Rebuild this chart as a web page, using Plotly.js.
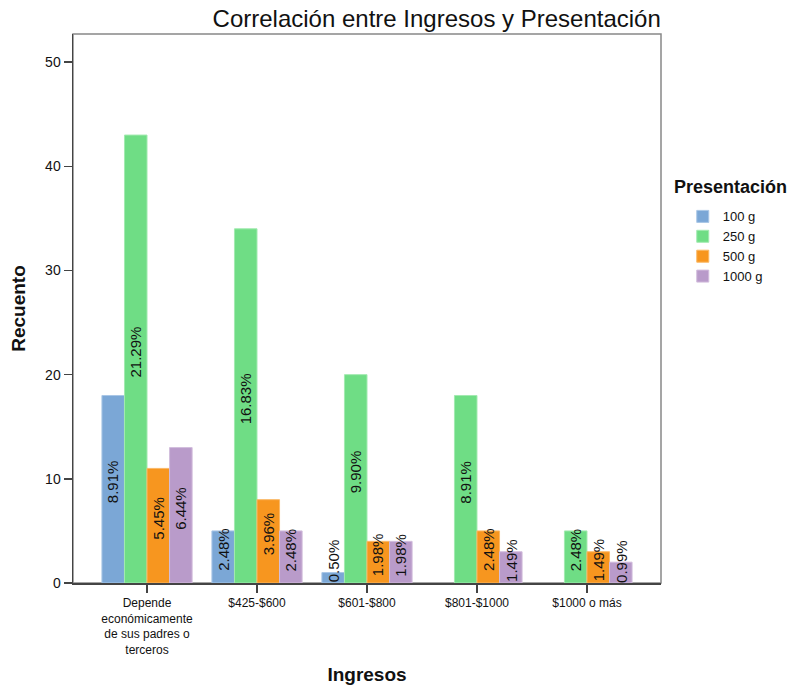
<!DOCTYPE html>
<html>
<head>
<meta charset="utf-8">
<script src="https://cdn.plot.ly/plotly-3.0.1.min.js"></script>
<style>html,body{margin:0;padding:0;background:#fff;}#chart{width:794px;height:688px;}</style>
</head>
<body>
<div id="chart"></div>
<script>
// ---- data ----
const categories = ["Depende<br>económicamente<br>de sus padres o<br>terceros", "$425-$600", "$601-$800", "$801-$1000", "$1000 o más"];
const seriesNames = ["100 g", "250 g", "500 g", "1000 g"];
const v100 = [18, 5, 1, 0, 0];
const v250 = [43, 34, 20, 18, 5];
const v500 = [11, 8, 4, 5, 3];
const v1000 = [13, 5, 4, 3, 2];
const pct100 = ["8.91%", "2.48%", "0.50%", "", ""];
const pct250 = ["21.29%", "16.83%", "9.90%", "8.91%", "2.48%"];
const pct500 = ["5.45%", "3.96%", "1.98%", "2.48%", "1.49%"];
const pct1000 = ["6.44%", "2.48%", "1.98%", "1.49%", "0.99%"];
const yTicks = [0, 10, 20, 30, 40, 50];

// ---- style ----
const FONT = '"Liberation Sans", Arial, sans-serif';
const colors = ["#7ba7d6", "#6fdd85", "#f7961f", "#b99bca"];
const lineColors = ["#a9c6e6", "#a2eab0", "#fab866", "#d2bddc"];
const BARGAP = 0.18;

const values = [v100, v250, v500, v1000];
const pcts = [pct100, pct250, pct500, pct1000];
const idx = categories.map((_, i) => i);

const traces = values.map((vals, s) => ({
  type: 'bar',
  name: seriesNames[s],
  x: idx,
  y: vals,
  marker: {color: colors[s], line: {color: lineColors[s], width: vals.map(v => v > 0 ? 1 : 0)}},
  hoverinfo: 'skip'
}));

// bar value labels (rotated), placed via bar geometry
const annotations = [];
const w = (1 - BARGAP) / values.length;
values.forEach((vals, s) => {
  vals.forEach((v, i) => {
    const t = pcts[s][i];
    if (!t) return;
    annotations.push({
      x: i + (s - (values.length - 1) / 2) * w,
      y: Math.max(v / 2 + 0.7, 2.1),
      xref: 'x', yref: 'y',
      text: t, showarrow: false, textangle: -90,
      font: {family: FONT, size: 15, color: '#111'},
      xanchor: 'center', yanchor: 'middle'
    });
  });
});
// legend title
annotations.push({
  xref: 'paper', yref: 'paper', x: 1.0187, y: 0.7213, xanchor: 'left', yanchor: 'middle',
  text: 'Presentación', showarrow: false,
  font: {family: FONT, size: 18, color: '#111', weight: 'bold'}
});

const layout = {
  width: 794, height: 688,
  margin: {l: 73, r: 133, t: 34, b: 105},
  paper_bgcolor: '#fff', plot_bgcolor: '#fff',
  font: {family: FONT, color: '#111'},
  barmode: 'group', bargap: BARGAP, bargroupgap: 0,
  title: {text: 'Correlación entre Ingresos y Presentación', font: {family: FONT, size: 24, color: '#111'},
          x: 0.55, xanchor: 'center', y: 0.973, yanchor: 'middle'},
  xaxis: {
    range: [-0.673, 4.673], tickmode: 'array', tickvals: idx, ticktext: categories,
    showgrid: false, zeroline: false, showline: true, linecolor: '#444', linewidth: 1.5,
    ticks: 'outside', ticklen: 8, tickcolor: '#444', tickwidth: 1.5,
    tickfont: {family: FONT, size: 12, color: '#111'},
    title: {text: 'Ingresos', font: {family: FONT, size: 19, color: '#111', weight: 'bold'}, standoff: 12}
  },
  yaxis: {
    range: [0, 52.7], tickmode: 'array', tickvals: yTicks,
    showgrid: false, zeroline: false, showline: true, linecolor: '#444', linewidth: 1.5,
    ticks: 'outside', ticklen: 8, tickcolor: '#444', tickwidth: 1.5,
    tickfont: {family: FONT, size: 14, color: '#111'},
    title: {text: 'Recuento', font: {family: FONT, size: 19, color: '#111', weight: 'bold'}, standoff: 14}
  },
  showlegend: true,
  legend: {
    x: 1.02, xanchor: 'left', y: 0.695, yanchor: 'top',
    font: {family: FONT, size: 13, color: '#111'},
    indentation: 10, traceorder: 'normal', itemclick: false
  },
  shapes: [{type: 'rect', xref: 'paper', yref: 'paper', x0: 0, x1: 1, y0: 0, y1: 1,
            line: {color: '#888', width: 1.5}, layer: 'below'}],
  annotations: annotations
};

Plotly.newPlot('chart', traces, layout, {displayModeBar: false, staticPlot: true});
</script>
</body>
</html>
